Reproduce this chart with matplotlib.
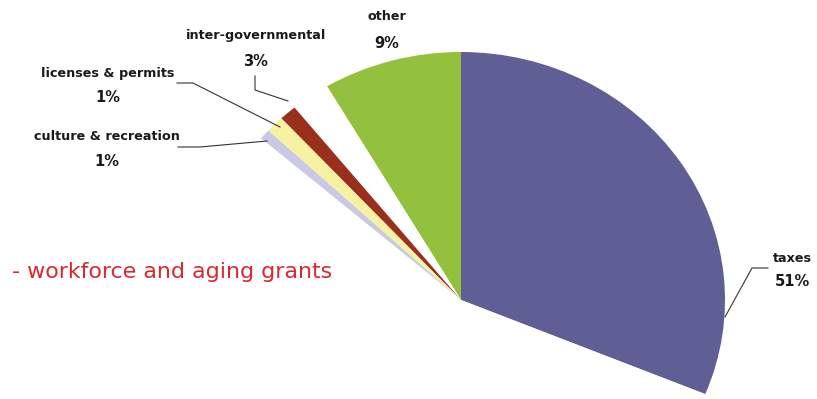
import numpy as np
import matplotlib.pyplot as plt

# wedge sizes as they appear (degrees of the drawn circle), labels as printed
names = ['taxes', 'other', 'inter-governmental', 'licenses & permits',
         'culture & recreation', 'grants', 'hidden']
sizes = [112.3, 30.5, 8.6, 3.8, 4.0, 2.4, 198.4]
pct_text = ['51%', '9%', '3%', '1%', '1%', '', '']
colors = ['#5f5f95', '#93c13d', 'white', '#9a2f1e', '#f6f2a2', '#c9c9e6', 'white']

W, H = 817, 399
cx, cy = 461, 300      # pie centre in pixels
rx, ry = 264, 248      # the picture is slightly stretched sideways


def d(px, py):
    # pixel (from top-left) -> data coords of the unit pie
    return (px - cx) / rx, (cy - py) / ry


fig = plt.figure(figsize=(W / 100, H / 100), dpi=100)
ax = fig.add_axes([0, 0, 1, 1])
ax.pie(sizes, colors=colors, startangle=-22.3, counterclock=True,
       wedgeprops=dict(linewidth=0))
ax.set_aspect('auto')
x0, y0 = d(0, H)
x1, y1 = d(W, 0)
ax.set_xlim(x0, x1)
ax.set_ylim(y0, y1)
ax.axis('off')

lab_font = dict(family='DejaVu Sans', fontweight='bold', color='#1a1a1a',
                ha='center', va='center')

# label positions (pixels) and leader lines
labels = [
    (0, 792, 258, 282, [(768, 268), (752, 268), (725, 317)]),
    (1, 387, 17, 43, None),
    (2, 256, 36, 62, [(255, 76), (255, 90), (288, 101)]),
    (3, 108, 73, 97, [(177, 83), (193, 83), (280, 127)]),
    (4, 107, 137, 162, [(178, 147), (200, 147), (267, 141)]),
]
for i, lx, ly1, ly2, leader in labels:
    ax.text(*d(lx, ly1), names[i], fontsize=9.2, **lab_font)
    ax.text(*d(lx, ly2), pct_text[i], fontsize=10.5, **lab_font)
    if leader:
        pts = np.array([d(*p) for p in leader])
        ax.plot(pts[:, 0], pts[:, 1], color='#333333', lw=0.8)

ax.text(*d(12, 272), '- workforce and aging grants', color='#d9282f',
        fontsize=15.9, family='DejaVu Sans', ha='left', va='center')

fig.savefig('out.png', dpi=100)
